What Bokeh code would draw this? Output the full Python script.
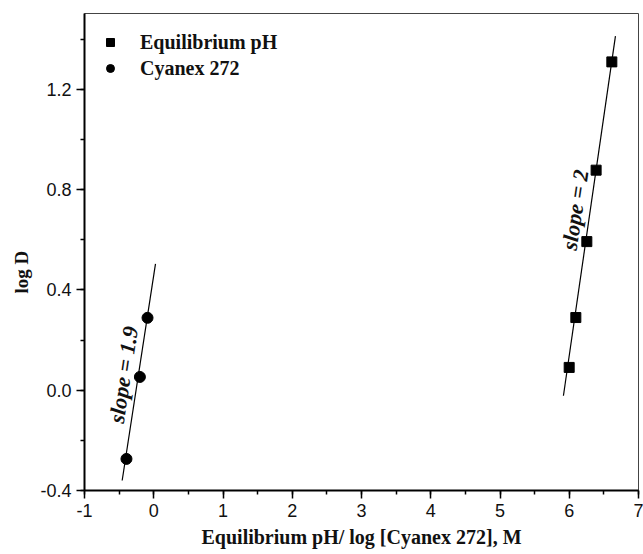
from bokeh.plotting import figure
from bokeh.models import (Range1d, SingleIntervalTicker, NumeralTickFormatter,
                          Legend, LegendItem, Title, ColumnDataSource)
from bokeh.embed import file_html
from bokeh.resources import INLINE
from bokeh.core.properties import value

# ---- data ----
ph_x = [5.999, 6.095, 6.254, 6.388, 6.615]
ph_y = [0.091, 0.290, 0.593, 0.878, 1.310]
cy_x = [-0.394, -0.200, -0.090]
cy_y = [-0.274, 0.053, 0.289]
ph_fit_x = [5.916, 6.667]
ph_fit_y = [-0.022, 1.413]
cy_fit_x = [-0.456, 0.025]
cy_fit_y = [-0.360, 0.504]
series_names = ["Equilibrium pH", "Cyanex 272"]
slope_texts = ["slope = 1.9", "slope = 2"]
slope_x = [-0.437, 6.085]
slope_y = [0.062, 0.720]
x_title = "Equilibrium pH/ log [Cyanex 272], M"
y_title = "log D"

SERIF = "Liberation Serif"
SANS = "Liberation Sans"

p = figure(width=643, height=554, output_backend="svg", toolbar_location=None,
           x_range=Range1d(-1, 7), y_range=Range1d(-0.4, 1.503),
           min_border_left=84, min_border_right=5, min_border_top=13,
           min_border_bottom=64, background_fill_color="white",
           border_fill_color="white")
p.frame_width = 554
p.frame_height = 477

p.xgrid.visible = False
p.ygrid.visible = False
p.outline_line_color = "#444444"
p.outline_line_width = 1

p.xaxis.ticker = SingleIntervalTicker(interval=1, num_minor_ticks=2)
p.xaxis.major_label_overrides = {-1: "-1"}
p.yaxis.ticker = SingleIntervalTicker(interval=0.4, num_minor_ticks=2)
p.yaxis.formatter = NumeralTickFormatter(format="0.0")
for ax in (p.xaxis, p.yaxis):
    ax.axis_line_width = 2
    ax.axis_line_color = "black"
    ax.major_tick_line_color = "black"
    ax.minor_tick_line_color = "black"
    ax.major_tick_line_width = 1.5
    ax.minor_tick_line_width = 1.5
    ax.major_tick_out = 8
    ax.major_tick_in = 0
    ax.minor_tick_out = 4
    ax.minor_tick_in = 0
    ax.major_label_text_font = SANS
    ax.major_label_text_font_size = "18px"
    ax.major_label_text_color = "#111111"
    ax.major_label_standoff = 5

p.xaxis.axis_label = x_title
p.xaxis.axis_label_text_font = SERIF
p.xaxis.axis_label_text_font_size = "20px"
p.xaxis.axis_label_text_font_style = "bold"
p.xaxis.axis_label_text_color = "#111111"
p.xaxis.axis_label_standoff = 6

# y-axis title as a side-panel title (allows shifting along the axis)
p.add_layout(Title(text=y_title, align="left", offset=197, standoff=12,
                   text_font=SERIF, text_font_size="19px", text_font_style="bold",
                   text_color="#111111"), "left")

# fit lines
p.line(cy_fit_x, cy_fit_y, line_color="black", line_width=1.2)
p.line(ph_fit_x, ph_fit_y, line_color="black", line_width=1.2)

# markers
r_ph = p.scatter(ph_x, ph_y, marker="square", size=10, fill_color="black", line_color="black")
r_cy = p.scatter(cy_x, cy_y, marker="circle", size=11, fill_color="black", line_color="black")

legend = Legend(items=[LegendItem(label=series_names[0], renderers=[r_ph]),
                       LegendItem(label=series_names[1], renderers=[r_cy])],
                location="top_left", border_line_color=None, background_fill_alpha=0,
                margin=16, padding=0, spacing=0, glyph_height=26, label_height=26,
                glyph_width=20, label_standoff=20,
                label_text_font=SERIF, label_text_font_size="20px",
                label_text_font_style="bold", label_text_color="#111111")
p.add_layout(legend)

# slope annotations
src = ColumnDataSource(dict(x=slope_x, y=slope_y, t=slope_texts))
p.text(x="x", y="y", text="t", source=src, angle=81.5, angle_units="deg",
       text_align="center", text_baseline="middle",
       text_font=value(SERIF), text_font_size="22px",
       text_font_style="bold italic", text_color="#111111")

open("out.html", "w").write(file_html(p, INLINE))
